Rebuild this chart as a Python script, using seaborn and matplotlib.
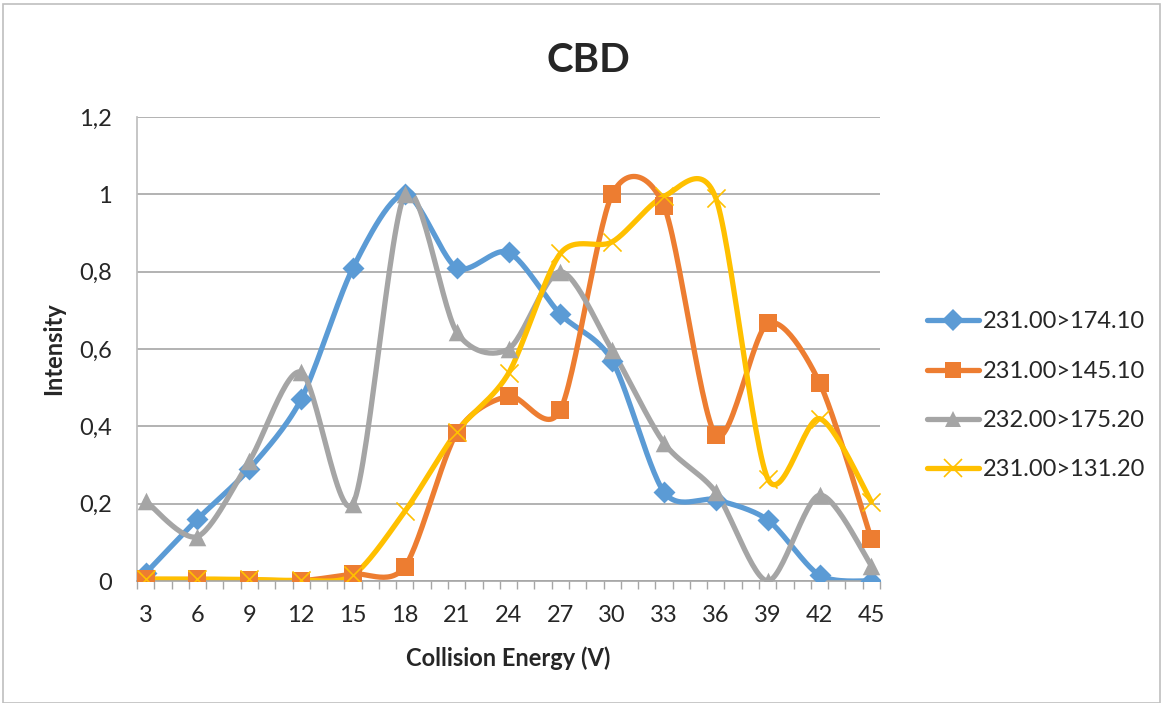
import numpy as np
import pandas as pd
import seaborn as sns
import matplotlib.pyplot as plt
from matplotlib.lines import Line2D
from matplotlib.patches import Rectangle

energy = [3, 6, 9, 12, 15, 18, 21, 24, 27, 30, 33, 36, 39, 42, 45]
s_174 = [0.02, 0.16, 0.29, 0.47, 0.81, 1.0, 0.81, 0.85, 0.69, 0.57, 0.23, 0.21, 0.158, 0.015, 0.0]
s_145 = [0.004, 0.004, 0.003, 0.001, 0.018, 0.037, 0.383, 0.478, 0.442, 1.0, 0.969, 0.377, 0.666, 0.513, 0.108]
s_175 = [0.207, 0.115, 0.31, 0.54, 0.20, 1.0, 0.644, 0.60, 0.80, 0.597, 0.357, 0.23, 0.0, 0.222, 0.04]
s_131 = [0.005, 0.005, 0.004, 0.002, 0.015, 0.18, 0.386, 0.537, 0.847, 0.877, 0.995, 0.99, 0.265, 0.42, 0.205]
names = ['231.00>174.10', '231.00>145.10', '232.00>175.20', '231.00>131.20']
colors = ['#5B9BD5', '#ED7D31', '#A5A5A5', '#FFC000']
markers = ['D', 's', '^', 'x']


def smooth(x, y, k=0.14, n=30):
    # Excel-like smoothed line: bezier segments, control points from neighbours
    x = np.asarray(x, float)
    y = np.asarray(y, float)
    px, py = [], []
    for i in range(len(x) - 1):
        i0, i3 = max(i - 1, 0), min(i + 2, len(x) - 1)
        c1x = x[i] + (x[i + 1] - x[i0]) * k
        c1y = y[i] + (y[i + 1] - y[i0]) * k
        c2x = x[i + 1] - (x[i3] - x[i]) * k
        c2y = y[i + 1] - (y[i3] - y[i]) * k
        t = np.linspace(0, 1, n)
        a, b, c, d = (1 - t) ** 3, 3 * (1 - t) ** 2 * t, 3 * (1 - t) * t ** 2, t ** 3
        px.extend(a * x[i] + b * c1x + c * c2x + d * x[i + 1])
        py.extend(a * y[i] + b * c1y + c * c2y + d * y[i + 1])
    return np.array(px), np.array(py)


sns.set_theme(style='white')
plt.rcParams['font.family'] = ['Lato', 'DejaVu Sans']

fig = plt.figure(figsize=(11.63, 7.03), dpi=100)
ax = fig.add_axes([137 / 1163, 1 - 581 / 703, (880 - 137) / 1163, (581 - 117) / 703])

for vals, name, col, mk in zip([s_174, s_145, s_175, s_131], names, colors, markers):
    sx, sy = smooth(energy, vals)
    sns.lineplot(x=sx, y=sy, color=col, lw=3.8, sort=False, ax=ax, zorder=2)
    if mk == 'x':
        ax.scatter(energy, vals, marker='x', s=170, color=col, linewidths=1.2, zorder=3)
    else:
        sns.scatterplot(x=energy, y=vals, marker=mk, s=160 if mk != 'D' else 125,
                        color=col, edgecolor=col, linewidth=0, ax=ax, zorder=3)

ax.set_xlim(2.5, 45.5)
ax.set_ylim(0, 1.2)
ax.set_yticks(np.arange(0, 1.21, 0.2))
ax.set_yticklabels(['0', '0,2', '0,4', '0,6', '0,8', '1', '1,2'], fontsize=17)
ax.set_xticks(energy)
ax.set_xticklabels([str(e) for e in energy], fontsize=17)
ax.set_xticks(np.arange(2.5, 45.6, 1), minor=True)
ax.tick_params(axis='x', which='major', length=0, pad=17)
ax.tick_params(axis='x', which='minor', bottom=True, length=6, color='#A6A6A6', width=1)
ax.tick_params(axis='y', length=0, pad=18)
ax.grid(axis='y', color='#A6A6A6', lw=1.2)
ax.set_axisbelow(True)
for side in ['top', 'right']:
    ax.spines[side].set_visible(False)
ax.spines['left'].set_color('#BFBFBF')
ax.spines['bottom'].set_color('#A6A6A6')
ax.spines['bottom'].set_linewidth(1.2)

fig.text(588 / 1163, 1 - 61 / 703, 'CBD', fontsize=29, fontweight='bold', ha='center', va='center')
ax.set_xlabel('Collision Energy (V)', fontsize=17, fontweight='bold', labelpad=15)
ax.set_ylabel('Intensity', fontsize=17, fontweight='bold', labelpad=10)

handles = [Line2D([0], [0], color=c, lw=3.8, marker=m, markersize=11 if m != 'x' else 13,
                  markeredgewidth=1.2 if m == 'x' else 0, markerfacecolor=c, markeredgecolor=c)
           for c, m in zip(colors, markers)]
fig.legend(handles, names, loc='center left', bbox_to_anchor=(906 / 1163, 1 - 396 / 703),
           frameon=False, fontsize=17, handlelength=2.2, handletextpad=0.15, labelspacing=1.2)

fig.add_artist(Rectangle((3 / 1163, 0), 1157 / 1163, 1 - 4 / 703, transform=fig.transFigure,
                         fill=False, edgecolor='#BFBFBF', lw=1.2))

fig.savefig('out.png', dpi=100)
